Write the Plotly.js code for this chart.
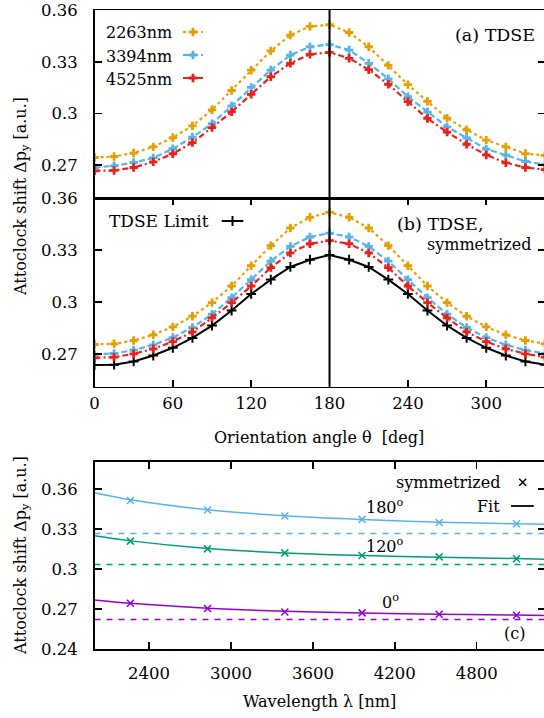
<!DOCTYPE html>
<html>
<head>
<meta charset="utf-8">
<script src="https://cdn.plot.ly/plotly-3.0.1.min.js"></script>
<style>
html,body{margin:0;padding:0;overflow:hidden;background:#fff;}
#chart{width:548px;height:718px;}
</style>
</head>
<body>
<div id="chart"></div>
<script>
// ---------- data ----------
const angles = [0,15,30,45,60,75,90,105,120,135,150,165,180,195,210,225,240,255,270,285,300,315,330,345];
const wavelengthsLabel = ["2263nm","3394nm","4525nm"];

// panel (a) raw TDSE
const a2263 = [0.2744,0.2750,0.2770,0.2806,0.2860,0.2928,0.3021,0.3133,0.3251,0.3363,0.3455,0.3505,0.3515,0.3470,0.3387,0.3279,0.3167,0.3070,0.2973,0.2905,0.2845,0.2806,0.2767,0.2756];
const a3394 = [0.2686,0.2696,0.2715,0.2742,0.2795,0.2862,0.2940,0.3043,0.3151,0.3252,0.3339,0.3387,0.3400,0.3368,0.3291,0.3201,0.3097,0.3008,0.2922,0.2858,0.2793,0.2758,0.2721,0.2703];
const a4525 = [0.2667,0.2669,0.2686,0.2719,0.2766,0.2831,0.2918,0.3009,0.3111,0.3213,0.3291,0.3343,0.3354,0.3320,0.3254,0.3169,0.3068,0.2971,0.2892,0.2821,0.2759,0.2713,0.2686,0.2674];

// panel (b) symmetrized
const b2263 = [0.2754,0.2758,0.2777,0.2810,0.2856,0.2917,0.2996,0.3092,0.3209,0.3325,0.3427,0.3489,0.3517,0.3489,0.3427,0.3325,0.3209,0.3092,0.2996,0.2917,0.2856,0.2810,0.2777,0.2758];
const b3394 = [0.2696,0.2702,0.2721,0.2752,0.2794,0.2852,0.2929,0.3025,0.3129,0.3236,0.3321,0.3375,0.3398,0.3375,0.3321,0.3236,0.3129,0.3025,0.2929,0.2852,0.2794,0.2752,0.2721,0.2702];
const b4525 = [0.2677,0.2681,0.2700,0.2729,0.2771,0.2827,0.2908,0.2996,0.3092,0.3198,0.3283,0.3336,0.3354,0.3336,0.3283,0.3198,0.3092,0.2996,0.2908,0.2827,0.2771,0.2729,0.2700,0.2681];
const bLimit = [0.2635,0.2637,0.2656,0.2690,0.2735,0.2792,0.2863,0.2950,0.3046,0.3129,0.3202,0.3244,0.3271,0.3244,0.3202,0.3129,0.3046,0.2950,0.2863,0.2792,0.2735,0.2690,0.2656,0.2637];

// panel (c)
const lambdas = [2263,2828,3394,3960,4525,5091];
const c180 = [0.3515,0.3443,0.3398,0.3373,0.3350,0.3340];
const c120 = [0.3210,0.3152,0.3122,0.3103,0.3092,0.3078];
const c0   = [0.2745,0.2705,0.2680,0.2673,0.2663,0.2655];
const fitLambdas = [2000,2263,2828,3394,3960,4525,5091,5300];
const fit180 = [0.3572,0.3520,0.3445,0.3400,0.3372,0.3352,0.3340,0.3336];
const fit120 = [0.3250,0.3212,0.3155,0.3122,0.3103,0.3090,0.3080,0.3075];
const fit0   = [0.2770,0.2745,0.2708,0.2685,0.2672,0.2663,0.2657,0.2653];
const limitLambdas = [2000,5300];
const limit180 = [0.3268,0.3268];
const limit120 = [0.3035,0.3035];
const limit0   = [0.2623,0.2623];
const angleLabels = ["180<sup>o</sup>","120<sup>o</sup>","0<sup>o</sup>"];

// ---------- style ----------
const W = 548, H = 718;
const FONT = "DejaVu Serif";
const FS = 16;
const cOr = "#e69f00", cBl = "#56b4e9", cRd = "#e8221a", cGr = "#009e73", cPu = "#9400d3";
const px = v => v / W;
const py = v => 1 - v / H;
const xdom = [px(94.5), px(545)];

const mk = (c) => ({symbol:"cross", size:7, color:c, line:{width:0}});
const dOr = "dot", dBl = "6px,3px", dRd = "6px,3px,2px,3px";

const traces = [];
function addAB(xa, ya, arrs, withLimit){
  if (withLimit) traces.push({x:angles, y:bLimit, xaxis:xa, yaxis:ya, mode:"lines+markers",
    line:{color:"#000", width:2}, marker:{symbol:"cross-thin", size:7, color:"#000", line:{width:2, color:"#000"}}});
  traces.push({x:angles, y:arrs[0], xaxis:xa, yaxis:ya, mode:"lines+markers", line:{color:cOr, width:2.2, dash:dOr}, marker:mk(cOr)});
  traces.push({x:angles, y:arrs[1], xaxis:xa, yaxis:ya, mode:"lines+markers", line:{color:cBl, width:2.2, dash:dBl}, marker:mk(cBl)});
  traces.push({x:angles, y:arrs[2], xaxis:xa, yaxis:ya, mode:"lines+markers", line:{color:cRd, width:2.2, dash:dRd}, marker:mk(cRd)});
}
addAB("x","y",[a2263,a3394,a4525],false);
addAB("x2","y2",[b2263,b3394,b4525],true);

const cSets = [[c180,fit180,limit180,cBl],[c120,fit120,limit120,cGr],[c0,fit0,limit0,cPu]];
cSets.forEach(s=>{
  traces.push({x:limitLambdas, y:s[2], xaxis:"x3", yaxis:"y3", mode:"lines", line:{color:s[3], width:1.5, dash:"6px,6px"}});
  traces.push({x:fitLambdas, y:s[1], xaxis:"x3", yaxis:"y3", mode:"lines", line:{color:s[3], width:1.5, shape:"spline"}});
  traces.push({x:lambdas, y:s[0], xaxis:"x3", yaxis:"y3", mode:"markers", marker:{symbol:"x-thin", size:7, color:s[3], line:{width:1.5, color:s[3]}}});
});

// legend keys on a pixel overlay axis
const keyX = [183,203], keyY = [[32,cOr,dOr],[55,cBl,dBl],[78,cRd,dRd]];
keyY.forEach(k=>{
  traces.push({x:keyX, y:[k[0],k[0]], xaxis:"x4", yaxis:"y4", mode:"lines", line:{color:k[1], width:2.2, dash:k[2]}, cliponaxis:false});
  traces.push({x:[193], y:[k[0]], xaxis:"x4", yaxis:"y4", mode:"markers", marker:mk(k[1]), cliponaxis:false});
});
traces.push({x:[221.7,243.3], y:[221,221], xaxis:"x4", yaxis:"y4", mode:"lines", line:{color:"#000", width:2}, cliponaxis:false});
traces.push({x:[232.5], y:[221], xaxis:"x4", yaxis:"y4", mode:"markers", marker:{symbol:"cross-thin", size:7, color:"#000", line:{width:2, color:"#000"}}, cliponaxis:false});
traces.push({x:[522.7], y:[482.3], xaxis:"x4", yaxis:"y4", mode:"markers", marker:{symbol:"x-thin", size:7, color:"#000", line:{width:1.5, color:"#000"}}, cliponaxis:false});
traces.push({x:[511,533.7], y:[506,506], xaxis:"x4", yaxis:"y4", mode:"lines", line:{color:"#000", width:1.8}, cliponaxis:false});

// ---------- axes ----------
const tickFont = {family:FONT, size:16.5, color:"#000"};
const base = {showgrid:false, zeroline:false, showline:true, linecolor:"#000", linewidth:1.5,
  ticks:"inside", ticklen:7, tickwidth:1.5, tickcolor:"#000", tickfont:tickFont, domain:xdom, ticklabeloverflow:"allow"};
const yTickV = [0.27,0.30,0.33,0.36], yTickT = ["0.27","0.3","0.33","0.36"];
const angTicks = [0,60,120,180,240,300];

const layout = {
  width:W, height:H, margin:{l:0,r:0,t:0,b:0}, showlegend:false,
  paper_bgcolor:"#fff", plot_bgcolor:"rgba(0,0,0,0)",
  font:{family:FONT, size:FS, color:"#000"},
  xaxis: Object.assign({}, base, {anchor:"y", range:[0,345], ticks:"", showticklabels:false, mirror:true}),
  yaxis: Object.assign({}, base, {anchor:"x", domain:[py(198), py(10)], range:[0.2509,0.36005], tickvals:yTickV, ticktext:yTickT, mirror:"ticks", ticklabelstandoff:12}),
  xaxis2: Object.assign({}, base, {anchor:"y2", range:[0,345], tickvals:angTicks, mirror:"ticks", ticklabelstandoff:1}),
  yaxis2: Object.assign({}, base, {anchor:"x2", domain:[py(386.7), py(198)], range:[0.251,0.36005], tickvals:yTickV, ticktext:yTickT, mirror:"ticks", ticklabelstandoff:12}),
  xaxis3: Object.assign({}, base, {anchor:"y3", range:[2000,5300], tickvals:[2400,3000,3600,4200,4800], mirror:"ticks", ticklabelstandoff:8}),
  yaxis3: Object.assign({}, base, {anchor:"x3", domain:[py(649.3), py(461.7)], range:[0.24,0.3805], tickvals:[0.24,0.27,0.30,0.33,0.36], ticktext:["0.24","0.27","0.3","0.33","0.36"], mirror:"ticks", ticklabelstandoff:12}),
  xaxis4: {domain:[0,1], range:[0,W], visible:false, anchor:"y4", fixedrange:true},
  yaxis4: {domain:[0,1], range:[H,0], visible:false, anchor:"x4", fixedrange:true},
  shapes:[{type:"line", xref:"x2", yref:"paper", x0:180, x1:180, y0:py(386.7), y1:py(10), line:{color:"#000", width:2}, layer:"above"}],
  annotations:[]
};

function ann(text, x, y, xanchor, size, extra){
  layout.annotations.push(Object.assign({text:text, xref:"paper", yref:"paper", x:px(x), y:py(y), xanchor:xanchor, yanchor:"middle", showarrow:false, font:{family:FONT, size:size||FS, color:"#000"}}, extra||{}));
}
ann(wavelengthsLabel[0], 174, 33, "right");
ann(wavelengthsLabel[1], 174, 56, "right");
ann(wavelengthsLabel[2], 174, 79, "right");
ann("(a) TDSE", 537, 35, "right", 17.5);
ann("TDSE Limit", 211, 221, "right", 17);
ann("(b) TDSE,", 395, 224, "left", 17.5);
ann("symmetrized", 425, 245, "left");
ann("Orientation angle θ&nbsp;&nbsp;[deg]", 319, 437, "center");
ann("Wavelength λ [nm]", 319, 701, "center");
ann("symmetrized", 502, 482, "right");
ann("Fit", 502, 506, "right");
ann(angleLabels[0], 385, 506, "center");
ann(angleLabels[1], 385, 545, "center");
ann(angleLabels[2], 390, 601, "center");
ann("(c)", 514, 633, "center");
ann("Attoclock shift Δp<sub>y</sub> [a.u.]", 21, 197, "center", 16, {textangle:-90});
ann("Attoclock shift Δp<sub>y</sub> [a.u.]", 21, 556, "center", 16, {textangle:-90});

Plotly.newPlot("chart", traces, layout, {staticPlot:true});
</script>
</body>
</html>
